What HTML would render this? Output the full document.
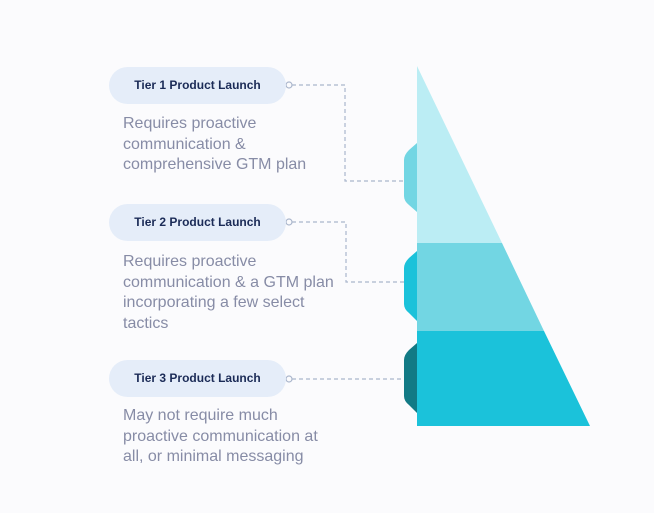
<!DOCTYPE html>
<html><head><style>
body{margin:0;width:654px;height:513px;background:#fbfbfd;position:relative;overflow:hidden;font-family:"Liberation Sans",sans-serif}
.pill{position:absolute;left:109px;width:177px;height:37px;border-radius:19px;background:#e5edf9;color:#1b2b57;font-weight:bold;font-size:12px;text-align:center;line-height:37px}
.t{position:absolute;left:123px;font-size:16px;line-height:20.5px;color:#878ca6}
</style></head><body>
<svg width="654" height="513" style="position:absolute;left:0;top:0">
<g fill="none" stroke="#aab6cc" stroke-width="1.2" stroke-dasharray="4,3">
<path d="M292 85H345V181H404"/>
<path d="M292 222H346V282H404"/>
<path d="M292 379H404"/>
</g>
<g fill="#fbfbfd" stroke="#aab6cc" stroke-width="1.2">
<circle cx="289" cy="85" r="3"/><circle cx="289" cy="222" r="3"/><circle cx="289" cy="379" r="3"/>
</g>
<path d="M417 143L409 150Q404 155 404 160V196Q404 201 409 205L417 212Z" fill="#72d6e3"/>
<path d="M417 251L409 258Q404 263 404 268V304Q404 309 409 313L417 321Z" fill="#1bc2da"/>
<path d="M417 343L409 350Q404 355 404 360V396Q404 401 409 405L417 413Z" fill="#127a85"/>
<polygon points="417,66 502,243 417,243" fill="#bbedf4"/>
<polygon points="417,243 502,243 544,331 417,331" fill="#72d6e3"/>
<polygon points="417,331 544,331 590,426 417,426" fill="#1bc2da"/>
</svg>
<div class="pill" style="top:67px">Tier 1 Product Launch</div>
<div class="pill" style="top:204px">Tier 2 Product Launch</div>
<div class="pill" style="top:360px">Tier 3 Product Launch</div>
<div class="t" style="top:114px">Requires proactive<br>communication &amp;<br>comprehensive GTM plan</div>
<div class="t" style="top:252px">Requires proactive<br>communication &amp; a GTM plan<br>incorporating a few select<br>tactics</div>
<div class="t" style="top:406px">May not require much<br>proactive communication at<br>all, or minimal messaging</div>
</body></html>
